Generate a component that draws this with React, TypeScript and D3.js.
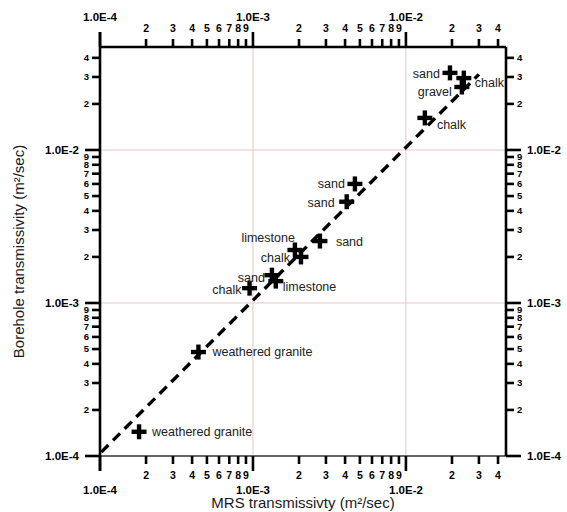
import React from "react";
import * as d3 from "d3";

// MRS vs borehole transmissivity (m²/sec)
const mrsT = [1.8e-4, 4.4e-4, 9.5e-4, 1.33e-3, 1.41e-3, 1.88e-3, 2.06e-3, 2.74e-3, 4.1e-3, 4.64e-3, 1.33e-2, 1.94e-2, 2.39e-2, 2.32e-2];
const boreholeT = [1.44e-4, 4.78e-4, 1.25e-3, 1.52e-3, 1.39e-3, 2.22e-3, 2.0e-3, 2.54e-3, 4.59e-3, 6.0e-3, 1.62e-2, 3.19e-2, 2.95e-2, 2.58e-2];
const lithology = [
  "weathered granite", "weathered granite", "chalk", "sand", "limestone", "limestone", "chalk",
  "sand", "sand", "sand", "chalk", "sand", "chalk", "gravel",
];

// 1:1-ish trend line endpoints
const trendX = [1.02e-4, 3.0e-2];
const trendSlope = 1.04;

// axis ticks
const decades = [1e-4, 1e-3, 1e-2];
const decadeLabels = ["1.0E-4", "1.0E-3", "1.0E-2"];
const minorMultipliers = [2, 3, 4, 5, 6, 7, 8, 9];
const xMax = 0.0451;
const yMax = 0.0471;

// label placement around each marker: [dx, dy, anchor]
const labelPlacement: [number, number, string][] = [
  [13, 0, "start"], [14, 0, "start"], [-8, 1, "end"], [-7, 2, "end"], [7, 6, "start"],
  [0, -12, "end"], [-11, 1, "end"], [16, 1, "start"], [-12, 1, "end"], [-10, 0, "end"],
  [12, 7, "start"], [-10, 1, "end"], [11, 5, "start"], [-10, 5, "end"],
];

const W = 567;
const H = 512;
const left = 100, right = 506, top = 47, bottom = 456;
const FONT = "'Liberation Sans', Arial, sans-serif";

export default function App() {
  const x = d3.scaleLog().domain([1e-4, xMax]).range([left, right]);
  const y = d3.scaleLog().domain([1e-4, yMax]).range([bottom, top]);

  const minorX: number[] = [];
  const minorY: number[] = [];
  decades.forEach((d) => {
    minorMultipliers.forEach((m) => {
      const v = d * m;
      if (v <= xMax) minorX.push(v);
      if (v <= yMax) minorY.push(v);
    });
  });
  const digit = (v: number) => String(Math.round(v / Math.pow(10, Math.floor(Math.log10(v) + 1e-9))));

  const tickW = 2.6;
  const majorLen = 15;
  const minorLen = 8;

  const plus = (cx: number, cy: number, key: number) => (
    <g key={key}>
      <line x1={cx - 7.5} x2={cx + 7.5} y1={cy} y2={cy} stroke="#000" strokeWidth={4.4} />
      <line x1={cx} x2={cx} y1={cy - 7.5} y2={cy + 7.5} stroke="#000" strokeWidth={4.4} />
    </g>
  );

  return (
    <svg width={W} height={H} style={{ position: "fixed", left: 0, top: 0, background: "#fff" }} fontFamily={FONT}>
      <rect width={W} height={H} fill="#fff" />
      {/* decade grid */}
      {decades.slice(1).map((d) => (
        <g key={"g" + d}>
          <line x1={x(d)} x2={x(d)} y1={top} y2={bottom} stroke="#e6c6c6" strokeWidth={1} />
          <line x1={left} x2={right} y1={y(d)} y2={y(d)} stroke="#e6c6c6" strokeWidth={1} />
        </g>
      ))}

      {/* trend line */}
      <line
        x1={x(trendX[0])} y1={y(trendX[0] * trendSlope)}
        x2={x(trendX[1])} y2={y(trendX[1] * trendSlope)}
        stroke="#000" strokeWidth={3.4} strokeDasharray="10,6.5"
      />

      {/* markers */}
      {mrsT.map((v, i) => plus(x(v), y(boreholeT[i]), i))}
      {mrsT.map((v, i) => {
        const [dx, dy, anchor] = labelPlacement[i];
        return (
          <text key={"l" + i} x={x(v) + dx} y={y(boreholeT[i]) + dy} dy="0.35em" textAnchor={anchor}
            fontSize={12.5} fill="#222">{lithology[i]}</text>
        );
      })}

      {/* frame */}
      <line x1={left} x2={right} y1={bottom} y2={bottom} stroke="#666" strokeWidth={2.2} />
      <line x1={left} x2={right} y1={top} y2={top} stroke="#000" strokeWidth={2.6} />
      <line x1={left} x2={left} y1={top - majorLen} y2={bottom + majorLen} stroke="#000" strokeWidth={2.6} />
      <line x1={right} x2={right} y1={top} y2={bottom} stroke="#000" strokeWidth={2.6} />

      {/* bottom & top axes */}
      {decades.map((d, i) => (
        <g key={"xm" + d}>
          <line x1={x(d)} x2={x(d)} y1={bottom} y2={bottom + majorLen} stroke="#000" strokeWidth={tickW} />
          <line x1={x(d)} x2={x(d)} y1={top} y2={top - majorLen} stroke="#000" strokeWidth={tickW} />
          <text x={x(d)} y={494} textAnchor="middle" fontSize={11.5} fontWeight="bold">{decadeLabels[i]}</text>
          <text x={x(d)} y={21} textAnchor="middle" fontSize={11.5} fontWeight="bold">{decadeLabels[i]}</text>
        </g>
      ))}
      {minorX.map((v) => (
        <g key={"xn" + v}>
          <line x1={x(v)} x2={x(v)} y1={bottom} y2={bottom + minorLen} stroke="#000" strokeWidth={tickW} />
          <line x1={x(v)} x2={x(v)} y1={top} y2={top - minorLen} stroke="#000" strokeWidth={tickW} />
          <text x={x(v)} y={479} textAnchor="middle" fontSize={10.5} fontWeight="bold">{digit(v)}</text>
          <text x={x(v)} y={32} textAnchor="middle" fontSize={10.5} fontWeight="bold">{digit(v)}</text>
        </g>
      ))}

      {/* left & right axes */}
      {decades.map((d, i) => (
        <g key={"ym" + d}>
          <line x1={left} x2={left - majorLen} y1={y(d)} y2={y(d)} stroke="#000" strokeWidth={tickW} />
          <line x1={right} x2={right + majorLen} y1={y(d)} y2={y(d)} stroke="#000" strokeWidth={tickW} />
          <text x={79} y={y(d)} dy="0.35em" textAnchor="end" fontSize={11.5} fontWeight="bold">{decadeLabels[i]}</text>
          <text x={527} y={y(d)} dy="0.35em" textAnchor="start" fontSize={11.5} fontWeight="bold">{decadeLabels[i]}</text>
        </g>
      ))}
      {minorY.map((v) => (
        <g key={"yn" + v}>
          <line x1={left} x2={left - minorLen} y1={y(v)} y2={y(v)} stroke="#000" strokeWidth={tickW} />
          <line x1={right} x2={right + minorLen} y1={y(v)} y2={y(v)} stroke="#000" strokeWidth={tickW} />
          <text x={89} y={y(v)} dy="0.35em" textAnchor="end" fontSize={9.5} fontWeight="bold">{digit(v)}</text>
          <text x={517} y={y(v)} dy="0.35em" textAnchor="start" fontSize={9.5} fontWeight="bold">{digit(v)}</text>
        </g>
      ))}

      {/* axis titles */}
      <text x={(left + right) / 2} y={508} textAnchor="middle" fontSize={15} fill="#1a1a1a">
        MRS transmissivty (m²/sec)
      </text>
      <text transform={`translate(24,${(top + bottom) / 2}) rotate(-90)`} textAnchor="middle" fontSize={15} fill="#1a1a1a">
        Borehole transmissivity (m²/sec)
      </text>
    </svg>
  );
}
